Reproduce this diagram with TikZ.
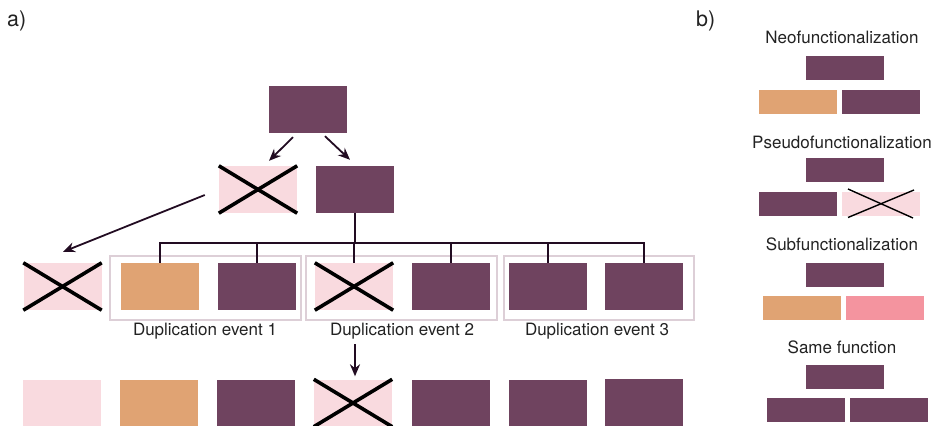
\documentclass[tikz,border=0pt]{standalone}
\usepackage{fontspec}
\setmainfont{TeX Gyre Heros}
\usetikzlibrary{arrows.meta,calc}
\definecolor{gpurple}{HTML}{6F435F}
\definecolor{gorange}{HTML}{E0A373}
\definecolor{glpink}{HTML}{F9DADF}
\definecolor{ghpink}{HTML}{F4949F}
\definecolor{gline}{HTML}{220C22}
\definecolor{gframe}{HTML}{DDCFD7}
\definecolor{gtext}{HTML}{222222}
\tikzset{
  gbox/.style={rectangle,inner sep=0pt,minimum width=78pt,minimum height=47pt},
  sbox/.style={rectangle,inner sep=0pt,minimum width=78pt,minimum height=24pt},
  pur/.style={fill=gpurple},
  ora/.style={fill=gorange},
  lpk/.style={fill=glpink},
  hpk/.style={fill=ghpink},
  xline/.style={draw=black,line width=3.6pt},
  xthin/.style={draw=black,line width=1.4pt},
  tree/.style={draw=gline,line width=1.8pt},
  arr/.style={draw=gline,line width=1.8pt,-{Stealth[length=12pt,width=10pt]}},
  frame/.style={draw=gframe,line width=1.5pt},
  lbl/.style={font=\fontsize{17}{20}\selectfont,text=gtext,inner sep=0pt},
  plbl/.style={font=\fontsize{21.5}{24}\selectfont,text=gtext,inner sep=0pt}
}
\newcommand{\xbox}[1]{%
  \draw[xline] (#1.north west) -- (#1.south east);
  \draw[xline] (#1.south west) -- (#1.north east);}
\begin{document}
\begin{tikzpicture}[x=1pt,y=-1pt]
\useasboundingbox (0,0) rectangle (938,426);
% panel labels
\node[plbl,anchor=west] (la) at (7,21) {a)};
\node[plbl,anchor=west] (lb) at (696,21) {b)};
% group frames
\draw[frame] (110,256) rectangle (301,320);
\draw[frame] (306,256) rectangle (497,320);
\draw[frame] (504,256) rectangle (694,320);
% top
\node[gbox,pur] (top) at (308,109.5) {};
\node[gbox,lpk] (r2a) at (258,189.5) {};
\node[gbox,pur] (r2b) at (355,189.5) {};
\xbox{r2a}
% row 3
\node[gbox,lpk] (r3x) at (62.5,286.5) {};
\node[gbox,ora] (e1a) at (160,286.5) {};
\node[gbox,pur] (e1b) at (257,286.5) {};
\node[gbox,lpk] (e2a) at (354,286.5) {};
\node[gbox,pur] (e2b) at (451,286.5) {};
\node[gbox,pur] (e3a) at (548,286.5) {};
\node[gbox,pur] (e3b) at (644,286.5) {};
\xbox{r3x}
\xbox{e2a}
% labels
\node[lbl] (t1) at (205,331) {Duplication event 1};
\node[lbl] (t2) at (402,331) {Duplication event 2};
\node[lbl] (t3) at (597,331) {Duplication event 3};
% row 4
\node[gbox,lpk] (f1) at (62,403) {};
\node[gbox,ora] (f2) at (159,403) {};
\node[gbox,pur] (f3) at (256,403) {};
\node[gbox,lpk] (f4) at (353,403) {};
\node[gbox,pur] (f5) at (451,403) {};
\node[gbox,pur] (f6) at (548,403) {};
\node[gbox,pur] (f7) at (644,402.5) {};
\xbox{f4}
% tree
\coordinate (bus) at (0,243);
\draw[tree] (r2b.south) -- (r2b.south |- bus);
\draw[tree] (e1a.north) -- (e1a.north |- bus) -- (e3b.north |- bus) -- (e3b.north);
\foreach \n in {e1b,e2a,e2b,e3a} \draw[tree] (\n.north) -- (\n.north |- bus);
% arrows
\draw[arr] ($(top.south)+(-15,4)$) -- ($(r2a.north)+(11,-5)$);
\draw[arr] ($(top.south)+(17,3)$) -- ($(r2b.north)+(-5,-6)$);
\draw[arr] ($(r2a.west)+(-14,5.5)$) -- ($(r3x.north)+(0.5,-11)$);
\draw[arr] ($(e2a.south)+(1,34)$) -- ($(f4.north)+(2,-3)$);
% panel b
\node[lbl] (h1) at (842,37) {Neofunctionalization};
\node[sbox,pur] (b1t) at (845,68) {};
\node[sbox,ora] (b1l) at (798,102) {};
\node[sbox,pur] (b1r) at (881,102) {};
\node[lbl] (h2) at (842,142) {Pseudofunctionalization};
\node[sbox,pur] (b2t) at (845,170) {};
\node[sbox,pur] (b2l) at (798,204) {};
\node[sbox,lpk] (b2r) at (881,204) {};
\draw[xthin] ($(b2r.center)+(-33,-15)$) -- ($(b2r.center)+(32,14)$);
\draw[xthin] ($(b2r.center)+(-33,13.5)$) -- ($(b2r.center)+(33,-14)$);
\node[lbl] (h3) at (842,244) {Subfunctionalization};
\node[sbox,pur] (b3t) at (845,275) {};
\node[sbox,ora] (b3l) at (802,308) {};
\node[sbox,hpk] (b3r) at (885,308) {};
\node[lbl] (h4) at (842,347) {Same function};
\node[sbox,pur] (b4t) at (845,377) {};
\node[sbox,pur] (b4l) at (806,410) {};
\node[sbox,pur] (b4r) at (889,410) {};
\end{tikzpicture}
\end{document}
